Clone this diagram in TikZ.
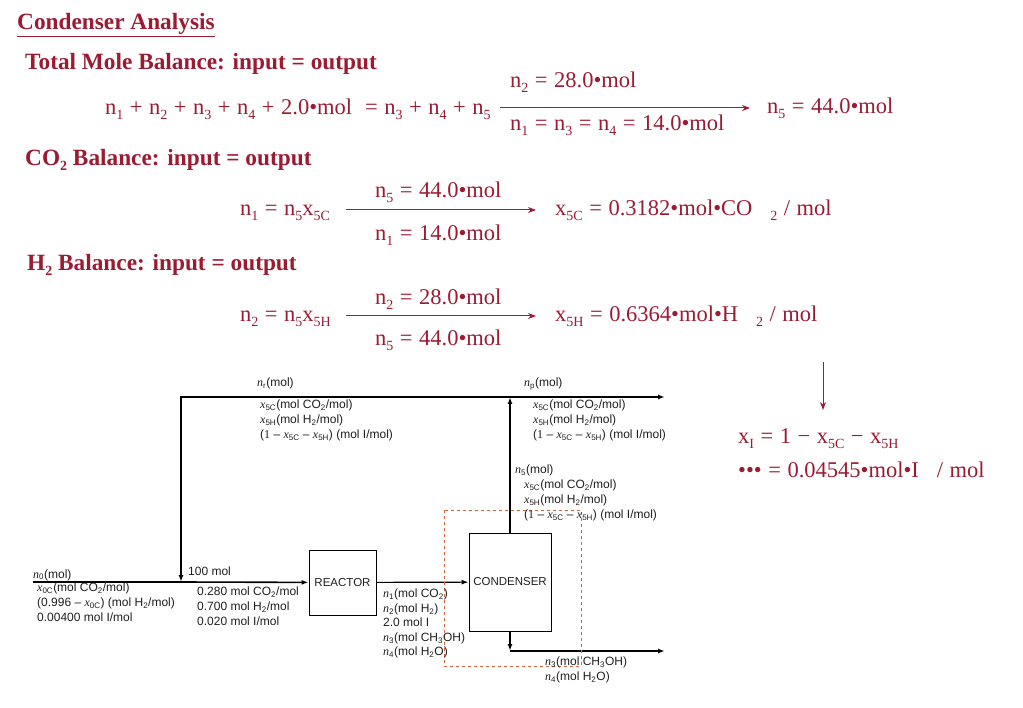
\documentclass[tikz,border=0pt]{standalone}
\usepackage{fontspec}
\setmainfont{Liberation Serif}
\setsansfont{Liberation Sans}
\usetikzlibrary{arrows.meta,positioning}
\definecolor{deepred}{HTML}{9A1B32}
\definecolor{envcol}{HTML}{D4643C}
\definecolor{inkgray}{HTML}{1E1E1E}
\newcommand{\dn}[1]{\raisebox{-0.4ex}{\fontsize{14}{14}\selectfont #1}}
\newcommand{\fv}[2]{{\rmfamily\itshape #1}\textsubscript{#2}}
\newcommand{\widesp}{\spaceskip=0.29em plus 0.1em\relax}

\tikzset{
  head/.style={anchor=base west, inner sep=0, text=deepred, font=\fontsize{23.3}{26}\selectfont\bfseries},
  eq/.style={anchor=base west, inner sep=0, text=deepred, font=\fontsize{22.5}{26}\selectfont\widesp},
  eqarrow/.style={draw=deepred, line width=1pt, -{Stealth[length=8pt,width=6pt]}},
  lbl/.style={anchor=base west, inner sep=0, text=inkgray, font=\fontsize{12}{15}\selectfont\sffamily},
  lblblock/.style={anchor=north west, inner sep=0, align=left, text=inkgray, font=\fontsize{12}{15}\selectfont\sffamily},
  unit/.style={draw, line width=0.9pt, text=inkgray, font=\fontsize{11.5}{12}\selectfont\sffamily},
  stream/.style={line width=1.6pt, -{Latex[length=7pt,width=5pt]}},
}

\begin{document}
\begin{tikzpicture}[x=1pt,y=-1pt]
\useasboundingbox (0,0) rectangle (1023,708);

% balances
\node[head] (title) at (17,30) {\underline{Condenser Analysis}};
\node[head] (tothead) at (25,70) {Total Mole Balance: input = output};
\node[eq] (tot) at (105,115) {n\dn{1} + n\dn{2} + n\dn{3} + n\dn{4} + 2.0•mol \ = n\dn{3} + n\dn{4} + n\dn{5}};
\coordinate (a1s) at (500,108);
\coordinate (a1e) at (750,108);
\draw[eqarrow] (a1s) -- (a1e);
\node[eq] (a1up) at (510,88) {n\dn{2} = 28.0•mol};
\node[eq] (a1dn) at (510,131) {n\dn{1} = n\dn{3} = n\dn{4} = 14.0•mol};
\node[eq] (n5res) at (767,114) {n\dn{5} = 44.0•mol};

\node[head] (cohead) at (25,166) {CO\dn{2} Balance: input = output};
\node[eq] (coeq) at (240,216) {n\dn{1} = n\dn{5}x\dn{5C}};
\coordinate (a2s) at (346,210);
\coordinate (a2e) at (536,210);
\draw[eqarrow] (a2s) -- (a2e);
\node[eq] (a2up) at (375,198) {n\dn{5} = 44.0•mol};
\node[eq] (a2dn) at (375,241) {n\dn{1} = 14.0•mol};
\node[eq] (x5cres) at (555,216) {x\dn{5C} = 0.3182•mol•CO\hspace{0.8em}\dn{2} / mol};

\node[head] (hhead) at (27,271) {H\dn{2} Balance: input = output};
\node[eq] (heq) at (240,322) {n\dn{2} = n\dn{5}x\dn{5H}};
\coordinate (a3s) at (346,316);
\coordinate (a3e) at (536,316);
\draw[eqarrow] (a3s) -- (a3e);
\node[eq] (a3up) at (375,305) {n\dn{2} = 28.0•mol};
\node[eq] (a3dn) at (375,346) {n\dn{5} = 44.0•mol};
\node[eq] (x5hres) at (555,322) {x\dn{5H} = 0.6364•mol•H\hspace{0.8em}\dn{2} / mol};

\coordinate (a4s) at (823,362);
\coordinate (a4e) at (823,410);
\draw[eqarrow] (a4s) -- (a4e);
\node[eq] (xieq) at (738,444) {x\dn{I} = 1 − x\dn{5C} − x\dn{5H}};
\node[eq] (xires) at (738,477) {••• = 0.04545•mol•I\hspace{0.8em}/ mol};

% flowchart
\coordinate (feed) at (33,582);
\coordinate (mix) at (181,582);
\coordinate (split) at (510,397);
\coordinate (purge) at (665,397);
\node[unit, minimum width=67pt, minimum height=65pt] (reactor) at (342.5,582.5) {REACTOR};
\node[unit, minimum width=82pt, minimum height=98pt] (condenser) at (510,582) {CONDENSER};
\coordinate (cbot) at (510,651);
\coordinate (liquid) at (665,651);

\draw[stream, -] (feed) -- (mix);
\draw[stream] (mix) -- (reactor);
\draw[stream] (split) -| (mix);
\draw[stream] (split) -- (purge);
\draw[stream] (condenser) -- (split);
\draw[stream, line width=1.2pt] (reactor) -- (condenser);
\draw[stream] (condenser) -- (cbot);
\draw[stream] (cbot) -- (liquid);
\draw[envcol, dashed, line width=0.8pt] (444,510) rectangle (581,666);

\node[lbl] (n0lbl) at (33,578) {\fv{n}{0}(mol)};
\node[lblblock] (feedcomp) at (37,583) {\fv{x}{0C}(mol CO\textsubscript{2}/mol)\\(0.996 – \fv{x}{0C}) (mol H\textsubscript{2}/mol)\\0.00400 mol I/mol};
\node[lbl] (freshlbl) at (188,575) {100 mol};
\node[lblblock] (freshcomp) at (197,587) {0.280 mol CO\textsubscript{2}/mol\\0.700 mol H\textsubscript{2}/mol\\0.020 mol I/mol};
\node[lbl] (nrlbl) at (257,387) {\fv{n}{r}(mol)};
\node[lblblock] (recycomp) at (260,400) {\fv{x}{5C}(mol CO\textsubscript{2}/mol)\\\fv{x}{5H}(mol H\textsubscript{2}/mol)\\(\textrm{1} – \fv{x}{5C} – \fv{x}{5H}) (mol I/mol)};
\node[lbl] (nplbl) at (524,387) {\fv{n}{p}(mol)};
\node[lblblock] (purgecomp) at (533,400) {\fv{x}{5C}(mol CO\textsubscript{2}/mol)\\\fv{x}{5H}(mol H\textsubscript{2}/mol)\\(\textrm{1} – \fv{x}{5C} – \fv{x}{5H}) (mol I/mol)};
\node[lbl] (n5lbl) at (515,474) {\fv{n}{5}(mol)};
\node[lblblock] (vapcomp) at (524,480) {\fv{x}{5C}(mol CO\textsubscript{2}/mol)\\\fv{x}{5H}(mol H\textsubscript{2}/mol)\\(\textrm{1} – \fv{x}{5C} – \fv{x}{5H}) (mol I/mol)};
\node[lblblock, font=\fontsize{12}{14.5}\selectfont\sffamily] (reaccomp) at (383,589) {\fv{n}{1}(mol CO\textsubscript{2})\\\fv{n}{2}(mol H\textsubscript{2})\\2.0 mol I\\\fv{n}{3}(mol CH\textsubscript{3}OH)\\\fv{n}{4}(mol H\textsubscript{2}O)};
\node[lblblock] (liqcomp) at (545,657) {\fv{n}{3}(mol CH\textsubscript{3}OH)\\\fv{n}{4}(mol H\textsubscript{2}O)};
\end{tikzpicture}
\end{document}
